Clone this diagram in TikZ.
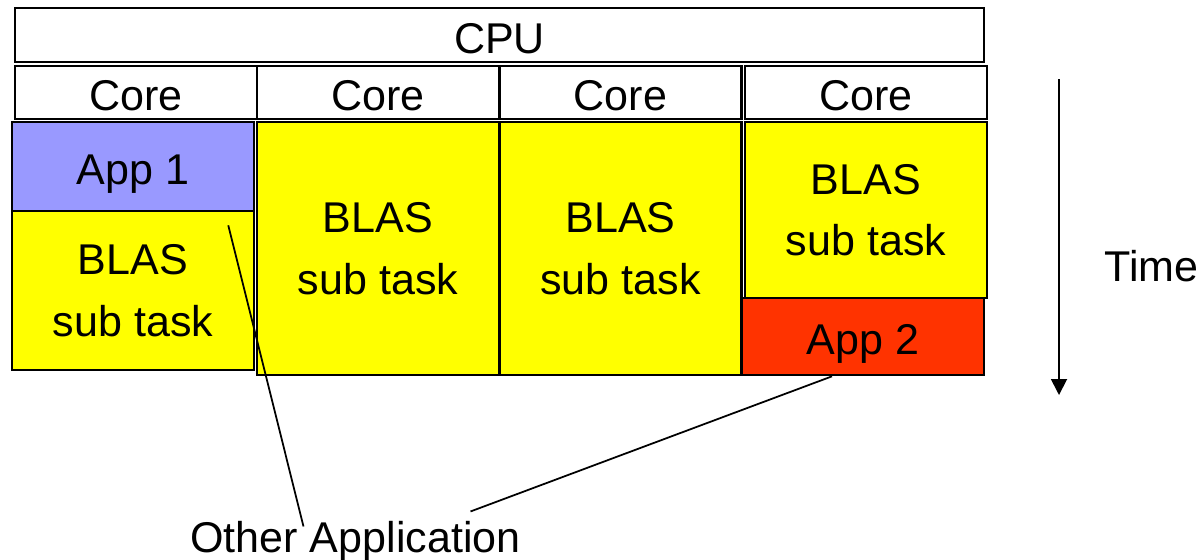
\documentclass[tikz,border=0pt]{standalone}
\usepackage{fontspec}
\setmainfont{Liberation Sans}
\usepackage{xcolor}
\usetikzlibrary{arrows.meta,calc}

\definecolor{appblue}{HTML}{9999FF}
\definecolor{blasyellow}{HTML}{FFFF00}
\definecolor{appred}{HTML}{FF3300}

\begin{document}
\begin{tikzpicture}[x=0.02cm,y=-0.02cm,
        cell/.style={draw=black,line width=1.5pt,minimum width=4.84cm,inner sep=0pt,
            font=\fontsize{24.5}{35}\selectfont},
        oneline/.style={text height=0.72cm,text depth=0pt},
        subtask/.style={cell,fill=blasyellow,align=center},
        label/.style={inner sep=0pt,font=\fontsize{24.5}{35}\selectfont}]
    \useasboundingbox (0,0) rectangle (1202,559);
    % processor and its cores
    \node[cell,oneline,minimum width=19.38cm,minimum height=1.08cm] (cpu) at (499.5,35) {CPU};
    \node[cell,oneline,minimum height=1.06cm] (core1) at (136,92.5) {Core};
    \node[cell,oneline,minimum height=1.06cm] (core2) at (378,92.5) {Core};
    \node[cell,oneline,minimum height=1.06cm] (core3) at (620.5,92.5) {Core};
    \node[cell,oneline,minimum height=1.06cm] (core4) at (866,92.5) {Core};
    % work on each core
    \node[cell,oneline,fill=appblue,minimum height=1.78cm] (app1) at (133,166.5) {App 1};
    \node[subtask,minimum height=3.18cm] (blas1) at (133,290.5) {BLAS\\sub task};
    \node[subtask,minimum height=5.06cm] (blas2) at (378,248.5) {BLAS\\sub task};
    \node[subtask,minimum height=5.06cm] (blas3) at (620.5,248.5) {BLAS\\sub task};
    \node[subtask,minimum height=3.52cm] (blas4) at (866,210) {BLAS\\sub task};
    \node[cell,oneline,fill=appred,minimum height=1.54cm] (app2) at (863,336.5) {App 2};
    % time axis
    \coordinate (t0) at (1059,79);
    \coordinate (t1) at (1059,395);
    \draw[line width=1pt,-{Triangle[width=0.32cm,length=0.32cm]}] (t0)--(t1);
    \node[label,anchor=west] (time) at (1104,266) {Time};
    % callout
    \node[label,anchor=base] (other) at (355.5,552) {Other Application};
    \draw[line width=1pt] ($(app1.south east)+(-27,13)$)--($(other.north)+(-52,6)$);
    \draw[line width=1pt] ($(app2.south)+(-31,0)$)--($(other.north)+(115,-9)$);
\end{tikzpicture}
\end{document}
